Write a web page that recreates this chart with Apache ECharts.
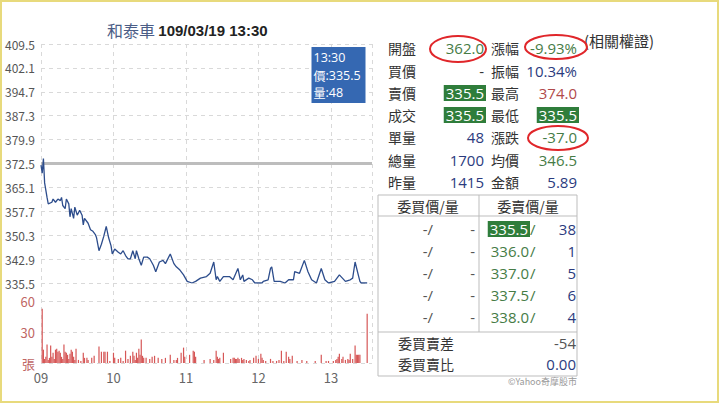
<!DOCTYPE html>
<html><head><meta charset="utf-8">
<script src="https://cdn.jsdelivr.net/npm/echarts@6/dist/echarts.min.js"></script>
<style>html,body{margin:0;padding:0;background:#fff}#c{width:720px;height:405px}</style>
</head><body><div id="c"></div>
<script>
// ---------- data ----------
const stockName = '和泰車';
const stamp = '109/03/19 13:30';
const prevClose = 372.5;
const priceMin = 335.5, priceMax = 409.5, priceStep = 7.4;
const hourLabels = ['09', '10', '11', '12', '13'];

const priceTimes = ['09:00','09:01','09:02','09:03','09:05','09:06','09:09','09:10','09:12','09:14','09:16','09:17','09:18','09:20','09:21','09:23','09:24','09:25','09:27','09:28','09:30','09:32','09:34','09:35','09:36','09:39','09:41','09:43','09:45','09:46','09:48','09:50','09:52','09:54','09:56','09:58','09:59','10:01','10:04','10:06','10:08','10:10','10:12','10:14','10:16','10:18','10:19','10:21','10:23','10:25','10:28','10:30','10:33','10:35','10:38','10:41','10:43','10:47','10:50','10:52','10:55','10:58','11:01','11:05','11:08','11:12','11:17','11:20','11:23','11:25','11:26','11:28','11:31','11:36','11:39','11:43','11:45','11:47','11:48','11:52','11:55','11:57','12:03','12:04','12:08','12:10','12:11','12:13','12:18','12:22','12:25','12:29','12:30','12:34','12:38','12:41','12:44','12:48','12:52','12:55','12:58','13:03','13:07','13:12','13:16','13:18','13:20','13:23','13:24','13:25','13:30'];
const prices = [372.0,369.5,374.0,366.5,362.0,360.0,360.5,361.5,360.5,361.5,361.0,362.0,359.5,358.5,361.5,360.0,356.0,358.5,355.5,359.0,356.5,358.0,356.5,353.5,355.5,354.0,352.0,351.5,350.5,349.5,345.5,347.5,350.0,353.0,349.5,347.0,344.5,346.0,345.0,344.5,345.5,344.0,343.0,343.0,345.5,343.0,345.5,343.0,341.0,343.5,343.5,343.0,341.0,339.0,342.0,342.5,341.5,344.5,341.5,340.5,339.5,338.0,336.0,335.5,336.0,337.0,337.5,338.5,342.0,336.5,337.5,336.0,337.5,337.5,336.5,340.0,336.5,338.0,336.0,337.0,336.5,335.5,335.5,336.0,336.5,340.0,340.5,336.0,336.0,335.5,336.5,336.5,339.0,338.5,342.5,339.0,336.5,335.5,340.0,336.5,335.5,336.0,338.0,336.0,336.5,337.0,342.0,337.5,336.0,335.5,335.5];

const volTimes = ['09:01','09:02','09:03','09:04','09:05','09:06','09:07','09:08','09:09','09:10','09:11','09:12','09:13','09:14','09:15','09:16','09:17','09:18','09:19','09:20','09:21','09:22','09:23','09:24','09:25','09:26','09:27','09:28','09:29','09:31','09:33','09:35','09:36','09:38','09:39','09:42','09:44','09:48','09:50','09:52','09:53','09:55','09:57','10:00','10:01','10:04','10:06','10:08','10:10','10:12','10:14','10:16','10:17','10:18','10:19','10:20','10:21','10:22','10:23','10:24','10:25','10:27','10:30','10:32','10:34','10:37','10:40','10:43','10:47','10:50','10:52','10:53','10:56','10:58','10:59','11:03','11:06','11:07','11:08','11:15','11:20','11:23','11:25','11:26','11:27','11:28','11:31','11:37','11:39','11:40','11:41','11:42','11:43','11:44','11:46','11:47','11:48','11:50','11:52','11:53','11:56','11:58','12:00','12:02','12:03','12:04','12:06','12:10','12:12','12:15','12:17','12:19','12:21','12:23','12:25','12:26','12:28','12:32','12:36','12:40','12:47','12:52','12:56','12:58','13:02','13:04','13:05','13:06','13:07','13:09','13:10','13:12','13:14','13:15','13:16','13:18','13:20','13:21','13:22','13:23','13:24','13:30'];
const volumes = [53,13,4,6,18,3,5,17,6,10,4,13,14,11,12,10,6,4,18,11,10,8,4,9,13,11,6,3,14,3,2,10,5,5,3,5,7,16,11,11,11,11,2,10,5,4,5,2,12,4,7,11,7,3,10,5,14,8,23,7,5,5,4,6,7,5,4,5,8,3,3,5,10,15,6,8,12,11,6,3,4,3,12,6,4,5,10,4,5,5,4,4,5,4,5,3,4,3,2,3,5,7,4,9,5,3,2,4,2,2,3,12,2,11,6,4,7,2,3,2,2,8,2,2,2,3,4,6,9,4,6,3,4,3,9,4,17,8,8,8,8,48];

const quoteLabelsL = ['開盤','買價','賣價','成交','單量','總量','昨量'];
const quoteValuesL = ['362.0','-','335.5','335.5','48','1700','1415'];
const quoteLabelsR = ['漲幅','振幅','最高','最低','漲跌','均價','金額'];
const quoteValuesR = ['-9.93%','10.34%','374.0','335.5','-37.0','346.5','5.89'];
const bookHeaders = ['委買價/量','委賣價/量'];
const bidPrices = ['-/','-/','-/','-/','-/'];
const bidVols = ['-','-','-','-','-'];
const askPrices = ['335.5','336.0','337.0','337.5','338.0'];
const askVols = ['38','1','5','6','4'];
const summaryLabels = ['委買賣差','委買賣比'];
const summaryValues = ['-54','0.00'];
const tipLabels = ['價', '量'];

// ---------- helpers ----------
const toMin = s => { const [h, m] = s.split(':').map(Number); return (h - 9) * 60 + m; };
const F = '"Noto Sans CJK TC", "Noto Sans", sans-serif';
const FN = '"Open Sans", "Noto Sans CJK TC", sans-serif';
const C = { lab:'#333', green:'#467c46', blue:'#2b3b7e', red:'#b14a4a', box:'#2f7d3b', grey:'#555' };
function T(x, y, text, o) {
  o = o || {};
  const st = { text, fill: o.fill || C.lab, fontSize: o.size || 14, fontFamily: o.font || F,
    fontWeight: o.weight || 'normal', align: o.align || 'left', verticalAlign: 'middle' };
  if (o.bg) { st.backgroundColor = o.bg; st.padding = [1, 2, 0, 2]; }
  return { type: 'text', x, y, z: o.z || 10, style: st };
}
const N = (x, y, text, o) => T(x, y, text, Object.assign({ font: FN, size: 15, align: 'right' }, o || {}));
const colorL = [C.green, C.lab, null, null, C.blue, C.blue, C.blue];
const colorR = [C.green, C.blue, C.red, null, C.green, C.green, C.blue];

const g = [];
// outer yellow frame
g.push({ type:'rect', shape:{x:1,y:1,width:717,height:401}, style:{fill:'none', stroke:'#e8da7c', lineWidth:2}, z:20 });
// title
g.push({ type:'text', x:107, y:30, style:{ text:'{a|' + stockName + '} {b|' + stamp + '}', verticalAlign:'middle',
  rich:{ a:{ fill:'#4b5d86', fontSize:16, fontFamily:F }, b:{ fill:'#222', fontSize:15, fontWeight:'bold', fontFamily:'"Liberation Sans", Arial, sans-serif' } } } });
// tooltip box (last point)
const lastI = prices.length - 1;
g.push({ type:'rect', shape:{x:311.5, y:47, width:54, height:56}, style:{fill:'#3568b2'}, z:10 });
g.push(T(313.5, 57.5, priceTimes[lastI], {font:FN, size:12.5, fill:'#fff', z:11}));
g.push(T(313.5, 75, tipLabels[0], {size:12, fill:'#fff', z:11}));
g.push(T(325.5, 75, ':' + prices[lastI].toFixed(1), {font:FN, size:12.5, fill:'#fff', z:11}));
g.push(T(313.5, 92.5, tipLabels[1], {size:12, fill:'#fff', z:11}));
g.push(T(325.5, 92.5, ':' + volumes[volumes.length - 1], {font:FN, size:12.5, fill:'#fff', z:11}));

// quote table
const rowY = [48, 71, 93, 115, 137, 160, 182];
quoteLabelsL.forEach((l, i) => {
  g.push(T(388, rowY[i], l));
  const boxed = (i === 2 || i === 3);
  g.push(N(boxed ? 486 : 484, rowY[i], quoteValuesL[i], { fill: boxed ? '#fff' : colorL[i], bg: boxed ? C.box : null }));
  g.push(T(491, rowY[i], quoteLabelsR[i]));
  const boxedR = (i === 3);
  g.push(N(boxedR ? 579 : 577, rowY[i], quoteValuesR[i], { fill: boxedR ? '#fff' : colorR[i], bg: boxedR ? C.box : null }));
});
g.push(T(584, 40, '(相關權證)', {size:15, fill:'#333'}));

// hand-drawn red marks
[[458, 49, 28, 13], [556, 47, 31, 12], [558, 138, 30, 12]].forEach(e => {
  g.push({ type:'ellipse', shape:{cx:e[0], cy:e[1], rx:e[2], ry:e[3]}, style:{fill:'none', stroke:'#e0262a', lineWidth:2}, z:15 });
});

// order book table
const bx0 = 378, bx1 = 577, by0 = 195, by1 = 376, colX = 479, hdrY = 216, sumY = 332;
g.push({ type:'rect', shape:{x:bx0, y:by0, width:bx1-bx0, height:by1-by0}, style:{fill:'none', stroke:'#bdbdbd', lineWidth:1} });
g.push({ type:'line', shape:{x1:bx0, y1:hdrY, x2:bx1, y2:hdrY}, style:{stroke:'#bdbdbd', lineWidth:1} });
g.push({ type:'line', shape:{x1:colX, y1:by0, x2:colX, y2:sumY}, style:{stroke:'#bdbdbd', lineWidth:1} });
g.push({ type:'line', shape:{x1:bx0, y1:sumY, x2:bx1, y2:sumY}, style:{stroke:'#bdbdbd', lineWidth:1} });
g.push(T(428, 206, bookHeaders[0], {align:'center'}));
g.push(T(528, 206, bookHeaders[1], {align:'center'}));
const bookY = [229, 251, 273, 295, 317];
bookY.forEach((y, i) => {
  g.push(N(433, y, bidPrices[i], {fill:C.grey}));
  g.push(N(475, y, bidVols[i], {fill:C.grey}));
  if (i === 0) {
    g.push(N(530, y, askPrices[i], {fill:'#fff', bg:C.box}));
  } else {
    g.push(N(529, y, askPrices[i], {fill:C.green}));
  }
  g.push(N(530, y, '/', {align:'left', fill:C.green}));
  g.push(N(576, y, askVols[i], {fill:C.blue}));
});
g.push(T(398, 343, summaryLabels[0]));
g.push(N(576, 343, summaryValues[0], {fill:C.grey}));
g.push(T(398, 363.5, summaryLabels[1]));
g.push(N(576, 363.5, summaryValues[1], {fill:C.blue}));
g.push(T(577, 381, '©Yahoo奇摩股市', {align:'right', size:9, fill:'#9a9a9a'}));

// ---------- chart ----------
const chart = echarts.init(document.getElementById('c'), null, { renderer: 'svg' });
const xMax = 274;
const splitDash = { show:true, lineStyle:{ color:'#d9d9d9', type:[4,4], width:1 } };
const hourFmt = v => (v % 60 === 0 && v / 60 < hourLabels.length) ? hourLabels[v / 60] : '';

chart.setOption({
  animation: false,
  graphic: g,
  grid: [
    { left:41, width:331, top:44, height:239 },
    { left:41, width:331, top:283, height:80 }
  ],
  xAxis: [
    { type:'value', gridIndex:0, min:0, max:xMax, interval:60, axisLine:{show:false}, axisTick:{show:false}, axisLabel:{show:false}, splitLine:splitDash },
    { type:'value', gridIndex:1, min:0, max:xMax, interval:60, axisLine:{show:false}, axisTick:{show:false},
      axisLabel:{ formatter:hourFmt, color:'#666', fontSize:13, fontFamily:F, margin:8 }, splitLine:splitDash }
  ],
  yAxis: [
    { type:'value', gridIndex:0, min:priceMin, max:priceMax, interval:priceStep, axisLine:{show:false}, axisTick:{show:false},
      axisLabel:{ formatter: v => v.toFixed(1), color:'#555', fontSize:12, fontFamily:F, margin:6 }, splitLine:splitDash },
    { type:'value', gridIndex:1, min:0, max:78, interval:30, axisLine:{show:false}, axisTick:{show:false},
      axisLabel:{ formatter: v => v === 0 ? '張' : (v === 30 || v === 60 ? String(v) : ''), color:'#c06664', fontSize:13, fontFamily:F, margin:6 },
      splitLine:splitDash }
  ],
  series: [
    { type:'line', xAxisIndex:0, yAxisIndex:0, data: priceTimes.map((t, i) => [toMin(t), prices[i]]),
      showSymbol:false, lineStyle:{ color:'#2d4d8c', width:1.3 }, z:3,
      markLine:{ silent:true, symbol:'none', z:1, label:{show:false}, lineStyle:{ color:'#bdbdbd', width:3, type:'solid' }, data:[{ yAxis: prevClose }] } },
    { type:'bar', xAxisIndex:1, yAxisIndex:1, data: volTimes.map((t, i) => [toMin(t), volumes[i]]),
      barWidth:1.2, itemStyle:{ color:'#d65757' } }
  ]
});
</script></body></html>
